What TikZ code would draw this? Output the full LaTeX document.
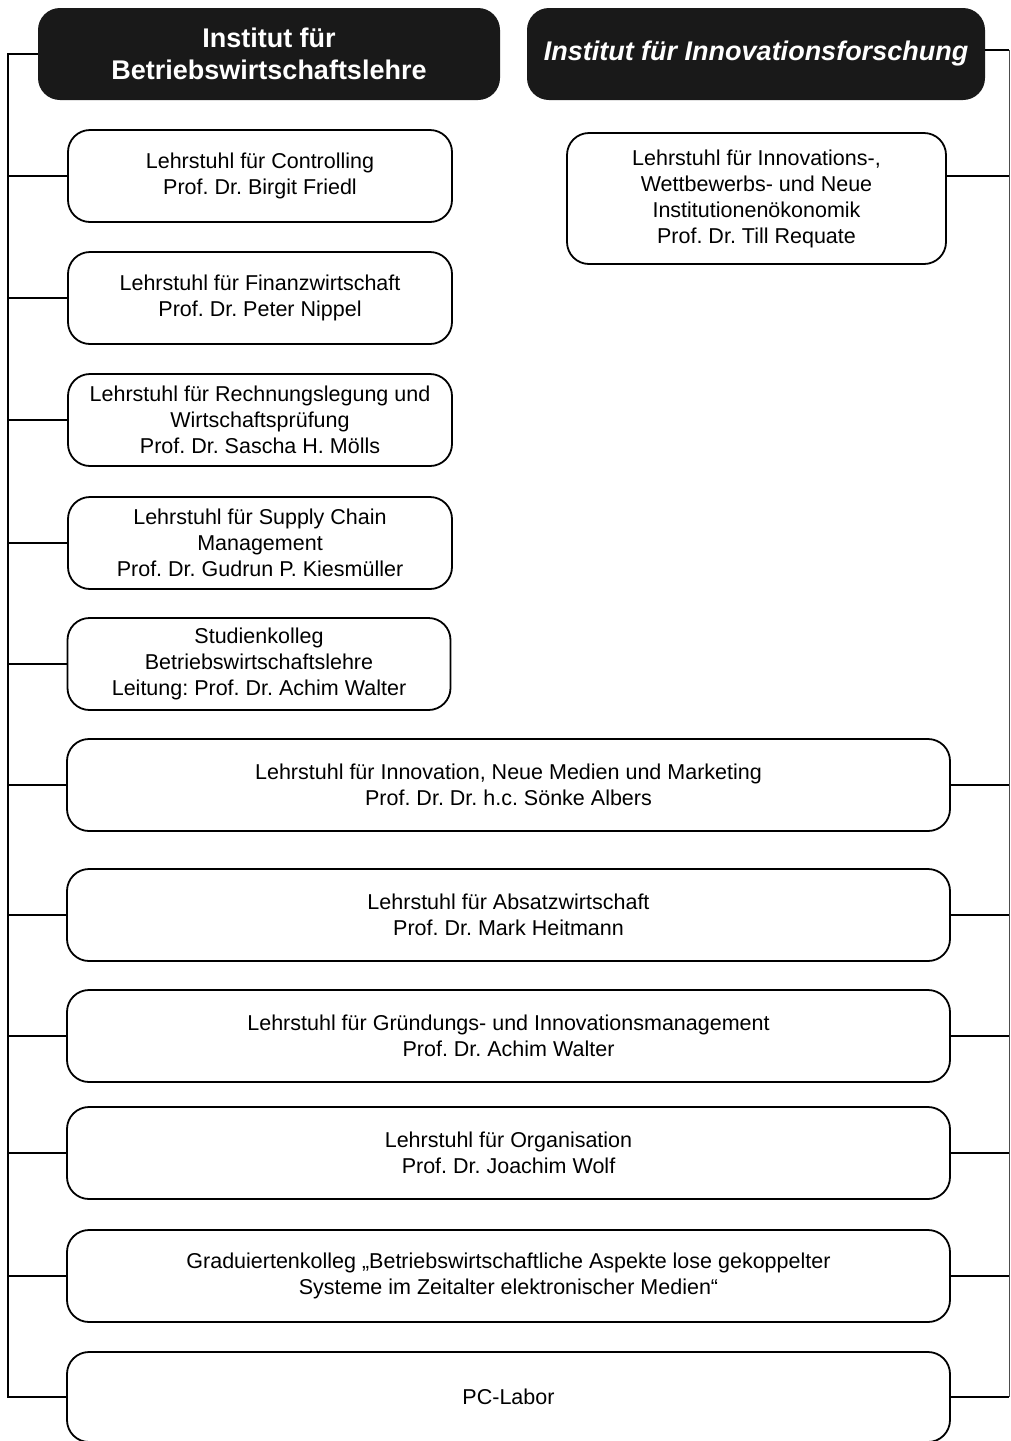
\documentclass[tikz,border=0pt]{standalone}
\usepackage{fontspec}
\setmainfont{Liberation Sans}
\frenchspacing
\begin{document}
\begin{tikzpicture}[x=1pt,y=-1pt,
  box/.style={draw, line width=1.8pt, rounded corners=22pt, align=center,
    font=\fontsize{21.5}{26}\selectfont, inner sep=0pt, minimum height=92pt},
  small/.style={box, minimum width=384pt},
  wide/.style={box, minimum width=883pt},
  hdr/.style={fill=black!90, rounded corners=22pt, text=white, align=center,
    font=\fontsize{27}{32}\selectfont\bfseries, inner sep=0pt, minimum height=92pt},
  conn/.style={line width=1.6pt},
  rconn/.style={line width=0.8pt, black!70}]
\useasboundingbox (0,0) rectangle (1010,1441);
\coordinate (lbus) at (8,0);
\coordinate (rbus) at (1009,0);

\node[hdr, minimum width=462pt] (h1) at (269,54) {Institut für\\Betriebswirtschaftslehre};
\node[hdr, minimum width=458pt] (h2) at (756,54) {\itshape Institut für Innovationsforschung};

\node[small] (c1) at (260,176) {Lehrstuhl für Controlling\\Prof. Dr. Birgit Friedl};
\node[small] (c2) at (260,298) {Lehrstuhl für Finanzwirtschaft\\Prof. Dr. Peter Nippel};
\node[small] (c3) at (260,420) {Lehrstuhl für Rechnungslegung und\\Wirtschaftsprüfung\\Prof. Dr. Sascha H. Mölls};
\node[small] (c4) at (260,543) {Lehrstuhl für Supply Chain\\Management\\Prof. Dr. Gudrun P. Kiesmüller};
\node[small, minimum width=383pt] (c5) at (259,664) {Studienkolleg\\Betriebswirtschaftslehre\\Leitung: Prof. Dr. Achim Walter};

\node[box, minimum width=379pt, minimum height=131pt] (r1) at (756.5,198.5) {Lehrstuhl für Innovations-,\\Wettbewerbs- und Neue\\Institutionenökonomik\\Prof. Dr. Till Requate};

\node[wide] (w1) at (508.5,785) {Lehrstuhl für Innovation, Neue Medien und Marketing\\Prof. Dr. Dr. h.c. Sönke Albers};
\node[wide] (w2) at (508.5,915) {Lehrstuhl für Absatzwirtschaft\\Prof. Dr. Mark Heitmann};
\node[wide] (w3) at (508.5,1036) {Lehrstuhl für Gründungs- und Innovationsmanagement\\Prof. Dr. Achim Walter};
\node[wide] (w4) at (508.5,1153) {Lehrstuhl für Organisation\\Prof. Dr. Joachim Wolf};
\node[wide] (w5) at (508.5,1276) {Graduiertenkolleg „Betriebswirtschaftliche Aspekte lose gekoppelter\\Systeme im Zeitalter elektronischer Medien“};
\node[wide, minimum height=90pt] (pc) at (508.5,1397) {PC-Labor};

% left bus
\draw[conn] (h1.west) -- (h1.west -| lbus) -- (pc.west -| lbus) -- (pc.west);
\foreach \n in {c1,c2,c3,c4,c5,w1,w2,w3,w4,w5}
  \draw[conn] (\n.west) -- (\n.west -| lbus);

% right bus
\draw[rconn] ([yshift=4pt]h2.east -| rbus) -- (pc.east -| rbus);
\draw[conn] ([yshift=4pt]h2.east) -- ([yshift=4pt]h2.east -| rbus);
\draw[conn] ([yshift=22.5pt]r1.east) -- ([yshift=22.5pt]r1.east -| rbus);
\foreach \n in {w1,w2,w3,w4,w5,pc}
  \draw[conn] (\n.east) -- (\n.east -| rbus);
\end{tikzpicture}
\end{document}
